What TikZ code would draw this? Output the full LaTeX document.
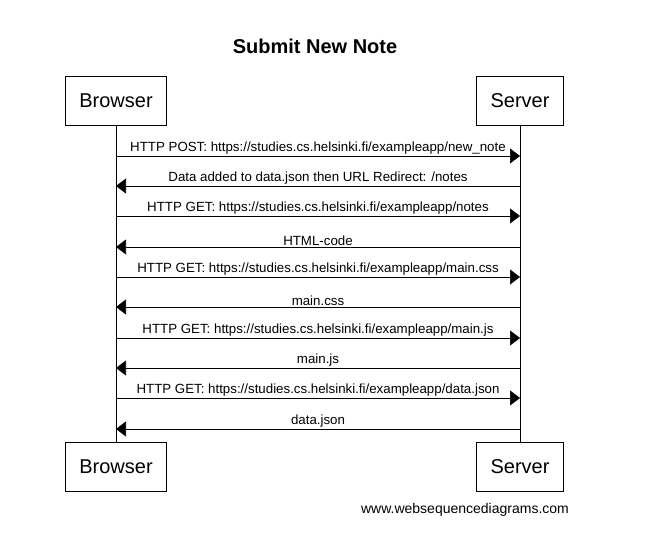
\documentclass[tikz,border=0pt]{standalone}
\usepackage{fontspec}
\setmainfont{Liberation Sans}
\usetikzlibrary{arrows.meta}

\tikzset{
    actor/.style={draw, semithick, fill=white, font=\fontsize{20}{24}\selectfont,
        inner xsep=14pt, minimum height=49pt},
    msg/.style={-{Triangle[length=10pt, width=15pt]}, semithick},
    msglabel/.style={font=\fontsize{13.3}{15}\selectfont, above, inner sep=1pt}
}

\begin{document}
\begin{tikzpicture}[x=1pt, y=-1pt]

\useasboundingbox (0,0) rectangle (664,553);

% Title
\node[font=\fontsize{20}{24}\selectfont\bfseries] (title) at (315, 46) {Submit New Note};

% Participants
\node[actor] (browserTop) at (116, 100.5) {Browser};
\node[actor] (serverTop) at (520, 100.5) {Server};
\node[actor] (browserBot) at (116, 466.5) {Browser};
\node[actor] (serverBot) at (520, 466.5) {Server};

% Lifelines
\draw (browserTop.south) -- (browserBot.north);
\draw (serverTop.south) -- (serverBot.north);

% Message points on the lifelines
\coordinate (b1) at (116, 156);  \coordinate (s1) at (520, 156);
\coordinate (b2) at (116, 186);  \coordinate (s2) at (520, 186);
\coordinate (b3) at (116, 216);  \coordinate (s3) at (520, 216);
\coordinate (b4) at (116, 247);  \coordinate (s4) at (520, 247);
\coordinate (b5) at (116, 277);  \coordinate (s5) at (520, 277);
\coordinate (b6) at (116, 307);  \coordinate (s6) at (520, 307);
\coordinate (b7) at (116, 338);  \coordinate (s7) at (520, 338);
\coordinate (b8) at (116, 368);  \coordinate (s8) at (520, 368);
\coordinate (b9) at (116, 398);  \coordinate (s9) at (520, 398);
\coordinate (b10) at (116, 429); \coordinate (s10) at (520, 429);

% Messages
\draw[msg] (b1) -- (s1) node[msglabel, midway] {HTTP POST: https://studies.cs.helsinki.fi/exampleapp/new\_note};
\draw[msg] (s2) -- (b2) node[msglabel, midway] {Data added to data.json then URL Redirect: /notes};
\draw[msg] (b3) -- (s3) node[msglabel, midway] {HTTP GET: https://studies.cs.helsinki.fi/exampleapp/notes};
\draw[msg] (s4) -- (b4) node[msglabel, midway] {HTML-code};
\draw[msg] (b5) -- (s5) node[msglabel, midway] {HTTP GET: https://studies.cs.helsinki.fi/exampleapp/main.css};
\draw[msg] (s6) -- (b6) node[msglabel, midway] {main.css};
\draw[msg] (b7) -- (s7) node[msglabel, midway] {HTTP GET: https://studies.cs.helsinki.fi/exampleapp/main.js};
\draw[msg] (s8) -- (b8) node[msglabel, midway] {main.js};
\draw[msg] (b9) -- (s9) node[msglabel, midway] {HTTP GET: https://studies.cs.helsinki.fi/exampleapp/data.json};
\draw[msg] (s10) -- (b10) node[msglabel, midway] {data.json};

% Watermark
\node[font=\fontsize{14}{17}\selectfont] (credit) at (465, 510) {www.websequencediagrams.com};

\end{tikzpicture}
\end{document}
